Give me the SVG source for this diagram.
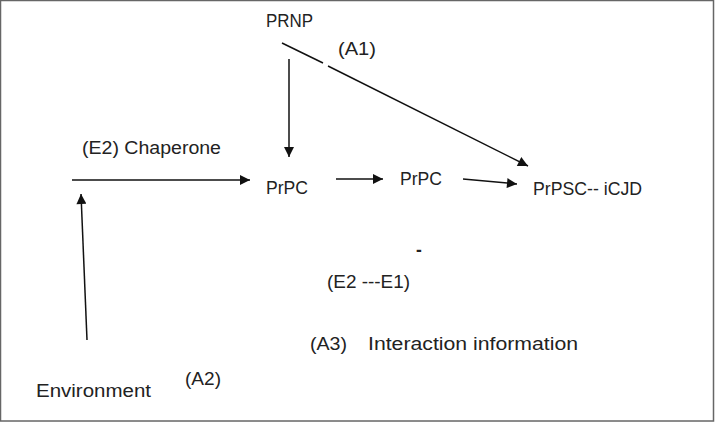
<svg xmlns="http://www.w3.org/2000/svg" width="715" height="423" viewBox="0 0 715 423">
<defs>
<marker id="ah" viewBox="0 0 10 10" refX="10" refY="5" markerWidth="11" markerHeight="10" markerUnits="userSpaceOnUse" orient="auto">
<path d="M0,0 L10,5 L0,10 Z" fill="#111"/>
</marker>
<style>
text{font-family:"Liberation Sans",Arial,sans-serif;font-size:17.5px;fill:#222}
.c{stroke:#111;stroke-width:1.5;fill:none}
.a{marker-end:url(#ah)}
</style>
</defs>
<rect x="0.5" y="0.5" width="713" height="420.5" fill="#fff" stroke="#666" stroke-width="1.5"/>
<g id="connectors">
<line class="c a" x1="289" y1="59" x2="289" y2="157"/>
<line class="c" x1="282" y1="43" x2="323" y2="63"/>
<line class="c a" x1="328" y1="66" x2="528" y2="166"/>
<line class="c a" x1="72" y1="180" x2="250" y2="180"/>
<line class="c a" x1="87" y1="340" x2="81" y2="194"/>
<line class="c a" x1="336" y1="179" x2="383" y2="179"/>
<line class="c a" x1="463" y1="179" x2="517" y2="184"/>
</g>
<g id="prnp"><text x="266" y="27" textLength="47" lengthAdjust="spacingAndGlyphs">PRNP</text></g>
<g id="a1"><text x="338" y="55" textLength="38" lengthAdjust="spacingAndGlyphs">(A1)</text></g>
<g id="chaperone"><text x="82" y="154" textLength="139" lengthAdjust="spacingAndGlyphs">(E2) Chaperone</text></g>
<g id="prpc1"><text x="266" y="194" textLength="42" lengthAdjust="spacingAndGlyphs">PrPC</text></g>
<g id="prpc2"><text x="400" y="185" textLength="42" lengthAdjust="spacingAndGlyphs">PrPC</text></g>
<g id="prpsc"><text x="533" y="195" textLength="109" lengthAdjust="spacingAndGlyphs">PrPSC-- iCJD</text></g>
<g id="dash"><text x="416" y="256" style="font-weight:bold">-</text></g>
<g id="e2e1"><text x="327" y="288" textLength="83" lengthAdjust="spacingAndGlyphs">(E2 ---E1)</text></g>
<g id="a3"><text x="310" y="350" textLength="37" lengthAdjust="spacingAndGlyphs">(A3)</text></g>
<g id="interaction"><text x="368" y="350" textLength="210" lengthAdjust="spacingAndGlyphs">Interaction information</text></g>
<g id="a2"><text x="185" y="385" textLength="36" lengthAdjust="spacingAndGlyphs">(A2)</text></g>
<g id="environment"><text x="36" y="397" textLength="115" lengthAdjust="spacingAndGlyphs">Environment</text></g>
</svg>
